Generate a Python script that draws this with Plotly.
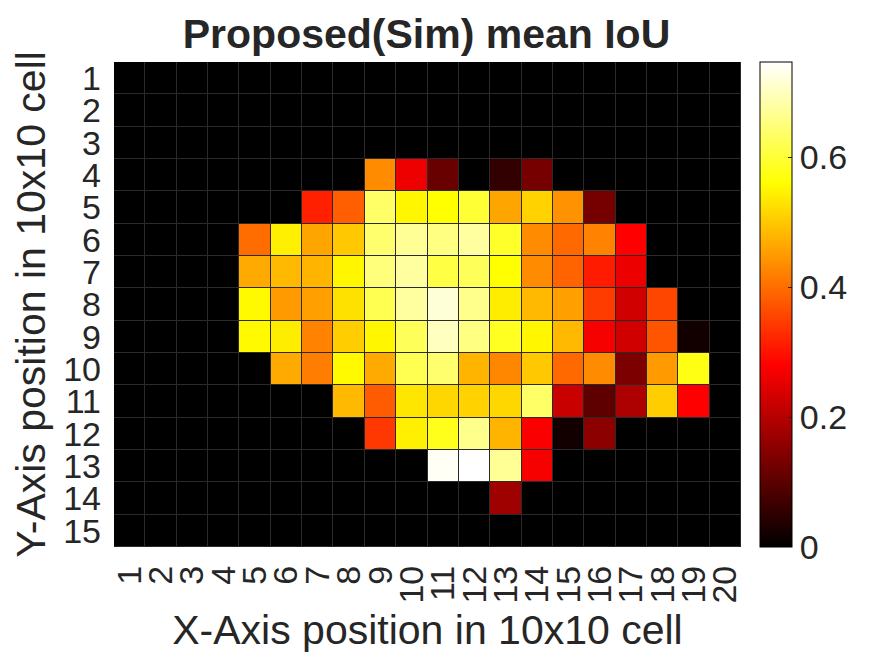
import plotly.graph_objects as go

x_labels = [str(i) for i in range(1, 21)]
y_labels = [str(i) for i in range(1, 16)]

# mean IoU per cell (row = Y position, column = X position)
row_01 = [0] * 20
row_02 = [0] * 20
row_03 = [0] * 20
row_04 = [0, 0, 0, 0, 0, 0, 0, 0, .434, .263, .115, 0, .055, .13, 0, 0, 0, 0, 0, 0]
row_05 = [0, 0, 0, 0, 0, 0, .315, .384, .635, .55, .56, .60, .461, .511, .44, .13, 0, 0, 0, 0]
row_06 = [0, 0, 0, 0, .40, .543, .461, .50, .64, .67, .655, .677, .59, .434, .395, .423, .28, 0, 0, 0]
row_07 = [0, 0, 0, 0, .467, .483, .478, .55, .65, .677, .61, .626, .56, .434, .39, .31, .26, 0, 0, 0]
row_08 = [0, 0, 0, 0, .555, .45, .456, .527, .62, .677, .718, .663, .54, .483, .456, .346, .23, .357, 0, 0]
row_09 = [0, 0, 0, 0, .555, .54, .423, .505, .55, .626, .70, .655, .585, .55, .483, .27, .23, .374, .02, 0]
row_10 = [0, 0, 0, 0, 0, .467, .417, .555, .467, .62, .64, .478, .428, .50, .395, .434, .137, .45, .575, 0]
row_11 = [0, 0, 0, 0, 0, 0, 0, .483, .38, .533, .516, .511, .516, .635, .22, .104, .19, .505, .28, 0]
row_12 = [0, 0, 0, 0, 0, 0, 0, 0, .34, .543, .58, .663, .478, .275, .02, .154, 0, 0, 0, 0]
row_13 = [0, 0, 0, 0, 0, 0, 0, 0, 0, 0, .74, .747, .67, .27, 0, 0, 0, 0, 0, 0]
row_14 = [0, 0, 0, 0, 0, 0, 0, 0, 0, 0, 0, 0, .175, 0, 0, 0, 0, 0, 0, 0]
row_15 = [0] * 20

iou = [row_01, row_02, row_03, row_04, row_05, row_06, row_07, row_08,
       row_09, row_10, row_11, row_12, row_13, row_14, row_15]

bar_ticks = [0, 0.2, 0.4, 0.6]
bar_labels = ["0", "0.2", "0.4", "0.6"]

# same stops as matlab's hot
hot = [[0, "#000000"], [0.375, "#ff0000"], [0.75, "#ffff00"], [1, "#ffffff"]]

TEXT = "#262626"
FONT = "Liberation Sans"

fig = go.Figure(go.Heatmap(
    z=iou, x=x_labels, y=y_labels,
    colorscale=hot, zmin=0, zmax=0.747,
    xgap=1, ygap=1,
    colorbar=dict(
        x=1.031, xanchor="left", xpad=0, y=0.5, ypad=0, len=1,
        thickness=32, outlinecolor="#000000", outlinewidth=1,
        tickmode="array", tickvals=bar_ticks, ticktext=bar_labels,
        ticks="inside", ticklen=4, tickcolor=TEXT,
        tickfont=dict(family=FONT, size=34, color=TEXT),
    ),
))

# the page has an 8px body margin, so the figure is 8px smaller than the window
fig.update_layout(
    width=867, height=648, autosize=False,
    margin=dict(l=106, r=133.5, t=54, b=101, pad=0),
    paper_bgcolor="white", plot_bgcolor="#2a2a2a",
    font=dict(family=FONT, color=TEXT),
    title=dict(text="<b>Proposed(Sim) mean IoU</b>", x=0.4827, xanchor="center",
               y=0.96, yanchor="middle", font=dict(family=FONT, size=41, color=TEXT)),
)
fig.update_xaxes(
    type="category", tickmode="array", tickvals=x_labels, ticktext=x_labels,
    tickangle=-90, tickfont=dict(size=34, color=TEXT),
    ticks="", ticklabelstandoff=11, showgrid=False, zeroline=False,
    title=dict(text="X-Axis position in 10x10 cell", font=dict(size=41, color=TEXT), standoff=12),
)
fig.update_yaxes(
    type="category", autorange="reversed", tickmode="array", tickvals=y_labels, ticktext=y_labels,
    tickfont=dict(size=34, color=TEXT),
    ticks="", ticklabelstandoff=12, showgrid=False, zeroline=False,
    title=dict(text="Y-Axis position in 10x10 cell", font=dict(size=41, color=TEXT), standoff=8),
)

fig.write_html("out.html")
